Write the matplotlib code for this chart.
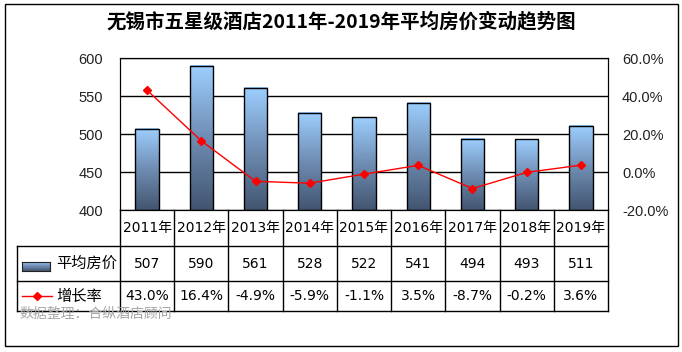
import matplotlib.pyplot as plt
import numpy as np
from matplotlib.colors import LinearSegmentedColormap
from matplotlib.patches import Rectangle
from matplotlib.lines import Line2D

plt.rcParams['font.family'] = ['Noto Sans CJK SC', 'DejaVu Sans']

years = ['2011年', '2012年', '2013年', '2014年', '2015年', '2016年', '2017年', '2018年', '2019年']
price = [507, 590, 561, 528, 522, 541, 494, 493, 511]
growth = [43.0, 16.4, -4.9, -5.9, -1.1, 3.5, -8.7, -0.2, 3.6]
growth_lbl = ['43.0%', '16.4%', '-4.9%', '-5.9%', '-1.1%', '3.5%', '-8.7%', '-0.2%', '3.6%']

W, H = 682, 352
fig = plt.figure(figsize=(W / 100, H / 100), dpi=100)


def fx(x):
    return x / W


def fy(y):
    return 1 - y / H


cmap = LinearSegmentedColormap.from_list('bar', ['#425570', '#6f8db3', '#9dcfff'])
grad = np.linspace(0, 1, 256).reshape(-1, 1)
numfont = ['DejaVu Sans', 'Noto Sans CJK SC']

# plot area
L, R, T, B = 120, 608, 58, 210
ax = fig.add_axes([fx(L), fy(B), (R - L) / W, (B - T) / H])
n = len(years)
xs = np.arange(n)
bw = 0.43
for x, v in zip(xs, price):
    ax.imshow(grad, extent=[x - bw / 2, x + bw / 2, 400, v], origin='lower',
              cmap=cmap, aspect='auto', zorder=2)
ax.bar(xs, [p - 400 for p in price], bottom=400, width=bw, fill=False,
       edgecolor='black', linewidth=1, zorder=3)
ax.set_xlim(-0.5, n - 0.5)
ax.set_ylim(400, 600)
ax.set_yticks([400, 450, 500, 550, 600])
ax.set_xticks([])
ax.grid(axis='y', color='black', linewidth=1, zorder=1)
ax.tick_params(axis='y', length=0, pad=12, labelsize=10.5, labelcolor='#222222')
for lbl in ax.get_yticklabels():
    lbl.set_family(['Liberation Sans', 'DejaVu Sans'])
for s in ax.spines.values():
    s.set_color('black')

ax2 = ax.twinx()
ax2.plot(xs, growth, color='red', linewidth=1, marker='D', markersize=4.5, zorder=4)
ax2.set_ylim(-20, 60)
ax2.set_yticks([-20, 0, 20, 40, 60])
ax2.set_yticklabels(['-20.0%', '0.0%', '20.0%', '40.0%', '60.0%'])
ax2.tick_params(axis='y', length=0, pad=10, labelsize=10.5, labelcolor='#222222')
for lbl in ax2.get_yticklabels():
    lbl.set_family(['Liberation Sans', 'DejaVu Sans'])

# title
fig.text(0.5, fy(22), '无锡市五星级酒店2011年-2019年平均房价变动趋势图', ha='center', va='center',
         fontsize=14, fontweight='bold')

# data table
r1, r2, r3 = 246, 281, 311
tl = 17
cw = (R - L) / n


def hline(y, x0, x1):
    fig.add_artist(Line2D([fx(x0), fx(x1)], [fy(y), fy(y)], color='black', linewidth=1))


def vline(x, y0, y1):
    fig.add_artist(Line2D([fx(x), fx(x)], [fy(y0), fy(y1)], color='black', linewidth=1))


hline(r1, tl, R)
hline(r2, tl, R)
hline(r3, tl, R)
vline(tl, r1, r3)
for i in range(n + 1):
    vline(L + i * cw, B, r3)

for i in range(n):
    cx = L + (i + 0.5) * cw
    fig.text(fx(cx), fy((B + r1) / 2), years[i], ha='center', va='center', fontsize=10,
             family=numfont)
    fig.text(fx(cx), fy((r1 + r2) / 2), str(price[i]), ha='center', va='center', fontsize=10,
             family=numfont)
    fig.text(fx(cx), fy((r2 + r3) / 2), growth_lbl[i], ha='center', va='center', fontsize=10,
             family=numfont)

# legend keys in table
kax = fig.add_axes([fx(22), fy(271), fx(50) - fx(22), fy(262) - fy(271)])
kax.imshow(grad, extent=[0, 1, 0, 1], origin='lower', cmap=cmap, aspect='auto')
kax.set_xticks([])
kax.set_yticks([])
for s in kax.spines.values():
    s.set_color('#222222')
fig.text(fx(56), fy((r1 + r2) / 2), '平均房价', ha='left', va='center', fontsize=11)
ly = (r2 + r3) / 2
fig.add_artist(Line2D([fx(22), fx(52)], [fy(ly), fy(ly)], color='red', linewidth=1))
fig.add_artist(Line2D([fx(37)], [fy(ly)], color='red', marker='D', markersize=4.5,
                      linestyle='none'))
fig.text(fx(56), fy(ly), '增长率', ha='left', va='center', fontsize=11)

# source
fig.text(fx(19), fy(314), '数据整理：合纵酒店顾问', ha='left', va='center', fontsize=10,
         color='#a6a6a6')

# outer border
fig.add_artist(Rectangle((fx(5), fy(346)), fx(678) - fx(5), fy(4) - fy(346),
                         fill=False, edgecolor='black', linewidth=1,
                         transform=fig.transFigure))

fig.savefig('out.png', dpi=100)
